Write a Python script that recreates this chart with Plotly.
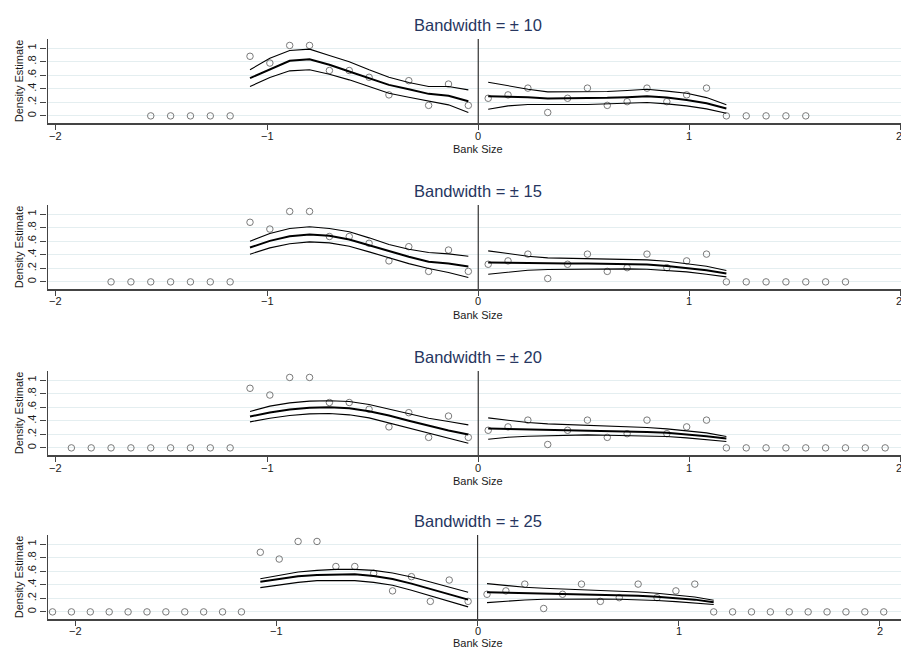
import plotly.graph_objects as go

# Bin midpoints (Bank Size) and histogram density of the observed bins
left_x = [-1.081, -0.987, -0.893, -0.799, -0.705, -0.611, -0.517, -0.423, -0.329, -0.235, -0.141, -0.047]
right_x = [0.047, 0.141, 0.235, 0.329, 0.423, 0.517, 0.611, 0.705, 0.799, 0.893, 0.987, 1.081, 1.175]
left_density = [0.88, 0.78, 1.04, 1.04, 0.67, 0.67, 0.57, 0.31, 0.52, 0.155, 0.47, 0.155]
right_density = [0.26, 0.31, 0.41, 0.05, 0.26, 0.41, 0.155, 0.21, 0.41, 0.21, 0.31, 0.41, 0.0]

# Empty bins added on each side as the bandwidth widens
left_empty_x = [-1.175, -1.269, -1.363, -1.457, -1.551, -1.645, -1.739, -1.833, -1.927, -2.021, -2.115]
right_empty_x = [1.269, 1.363, 1.457, 1.551, 1.645, 1.739, 1.833, 1.927, 2.021, 2.115]
empty_left_count = [5, 7, 9, 11]
empty_right_count = [4, 6, 8, 10]

bandwidths = [10, 15, 20, 25]

# Local polynomial fits: (estimate, upper CI, lower CI) for each side, per bandwidth
fit_left = [
    ([0.557, 0.69, 0.813, 0.837, 0.754, 0.655, 0.557, 0.458, 0.394, 0.325, 0.296, 0.217],
     [0.68, 0.852, 0.966, 0.985, 0.89, 0.80, 0.68, 0.571, 0.493, 0.433, 0.433, 0.384],
     [0.433, 0.567, 0.665, 0.68, 0.616, 0.532, 0.433, 0.335, 0.276, 0.222, 0.163, 0.049]),
    ([0.507, 0.606, 0.675, 0.70, 0.68, 0.626, 0.542, 0.453, 0.37, 0.296, 0.27, 0.227],
     [0.60, 0.714, 0.788, 0.813, 0.788, 0.739, 0.65, 0.552, 0.483, 0.433, 0.414, 0.379],
     [0.409, 0.502, 0.562, 0.591, 0.576, 0.527, 0.443, 0.355, 0.27, 0.197, 0.138, 0.064]),
    ([0.463, 0.522, 0.567, 0.591, 0.601, 0.586, 0.542, 0.478, 0.40, 0.325, 0.256, 0.197],
     [0.537, 0.616, 0.665, 0.69, 0.695, 0.685, 0.64, 0.576, 0.502, 0.438, 0.389, 0.34],
     [0.384, 0.438, 0.478, 0.502, 0.507, 0.488, 0.443, 0.369, 0.296, 0.217, 0.143, 0.069]),
    ([0.446, 0.485, 0.525, 0.544, 0.554, 0.554, 0.529, 0.485, 0.417, 0.338, 0.26, 0.181],
     [0.49, 0.544, 0.588, 0.613, 0.627, 0.627, 0.613, 0.574, 0.515, 0.441, 0.368, 0.289],
     [0.358, 0.402, 0.436, 0.461, 0.466, 0.461, 0.436, 0.392, 0.319, 0.24, 0.157, 0.074]),
]
fit_right = [
    ([0.29, 0.286, 0.276, 0.256, 0.256, 0.266, 0.266, 0.276, 0.29, 0.27, 0.236, 0.187, 0.108],
     [0.497, 0.443, 0.394, 0.355, 0.355, 0.36, 0.36, 0.374, 0.394, 0.365, 0.335, 0.27, 0.163],
     [0.099, 0.148, 0.167, 0.163, 0.167, 0.167, 0.177, 0.187, 0.197, 0.177, 0.148, 0.103, 0.039]),
    ([0.286, 0.281, 0.276, 0.266, 0.271, 0.271, 0.266, 0.261, 0.256, 0.236, 0.207, 0.172, 0.123],
     [0.458, 0.419, 0.379, 0.355, 0.35, 0.345, 0.34, 0.335, 0.325, 0.305, 0.271, 0.232, 0.167],
     [0.113, 0.148, 0.172, 0.182, 0.187, 0.192, 0.192, 0.192, 0.187, 0.172, 0.148, 0.113, 0.074]),
    ([0.286, 0.281, 0.276, 0.271, 0.266, 0.261, 0.256, 0.246, 0.236, 0.222, 0.202, 0.172, 0.138],
     [0.443, 0.404, 0.374, 0.355, 0.345, 0.335, 0.325, 0.315, 0.30, 0.281, 0.256, 0.222, 0.167],
     [0.128, 0.158, 0.172, 0.182, 0.187, 0.192, 0.187, 0.182, 0.177, 0.167, 0.148, 0.123, 0.094]),
    ([0.289, 0.284, 0.279, 0.274, 0.27, 0.265, 0.26, 0.25, 0.24, 0.225, 0.206, 0.181, 0.142],
     [0.417, 0.387, 0.363, 0.348, 0.338, 0.328, 0.319, 0.309, 0.294, 0.275, 0.25, 0.22, 0.172],
     [0.137, 0.162, 0.176, 0.186, 0.191, 0.191, 0.191, 0.186, 0.181, 0.167, 0.152, 0.132, 0.108]),
]

x_ranges = [[-2.04, 2.002], [-2.04, 2.002], [-2.04, 2.002], [-2.14, 2.107]]
y_ticks = [0, 0.2, 0.4, 0.6, 0.8, 1]
y_ticktext = ["0", ".2", ".4", ".6", ".8", "1"]
x_ticks = [-2, -1, 0, 1, 2]
x_ticktext = ["\u22122", "\u22121", "0", "1", "2"]

W, H = 901, 651
plot_left = 47.5
panel_tops = [39, 205, 371, 535]
panel_h = 84
ticklabel_gap = [12.5, 12.5, 12.5, 11.5]

FONT = "Liberation Sans, Arial, Helvetica, sans-serif"
TXT = "#1a1a1a"
AX = "#444444"
marker_style = dict(symbol="circle-open", size=6.5, color="#7a7a7a", line=dict(width=1, color="#7a7a7a"))
tickfont = dict(size=11, color=TXT, family=FONT)
titlefont = dict(size=11, color=TXT, family=FONT)

fig = go.Figure()
annotations = []
shapes = []

for i, bw in enumerate(bandwidths):
    xa = "x" if i == 0 else f"x{i + 1}"
    ya = "y" if i == 0 else f"y{i + 1}"
    pts_x = (left_empty_x[:empty_left_count[i]][::-1] + left_x + right_x
             + right_empty_x[:empty_right_count[i]])
    pts_y = ([0.0] * empty_left_count[i] + left_density + right_density
             + [0.0] * empty_right_count[i])
    fig.add_trace(go.Scatter(x=pts_x, y=pts_y, mode="markers", marker=marker_style,
                             xaxis=xa, yaxis=ya, showlegend=False, cliponaxis=False))
    for xs, (est, hi, lo) in ((left_x, fit_left[i]), (right_x, fit_right[i])):
        for ys, w in ((hi, 1.1), (lo, 1.1), (est, 2.0)):
            fig.add_trace(go.Scatter(x=xs, y=ys, mode="lines",
                                     line=dict(color="black", width=w),
                                     xaxis=xa, yaxis=ya, showlegend=False))

    top = panel_tops[i]
    bottom = top + panel_h
    dom_y = [1 - bottom / H, 1 - top / H]
    fig.layout[f"xaxis{'' if i == 0 else i + 1}"] = dict(
        domain=[plot_left / W, 1], range=x_ranges[i], anchor=ya,
        tickvals=x_ticks, showticklabels=False, showgrid=False, zeroline=False,
        showline=True, linecolor=AX, linewidth=1.6, ticks="outside", tickcolor=AX,
        ticklen=5)
    fig.layout[f"yaxis{'' if i == 0 else i + 1}"] = dict(
        domain=dom_y, range=[-0.105, 1.135], anchor=xa,
        tickvals=y_ticks, ticktext=y_ticktext, tickangle=-90,
        showgrid=True, gridcolor="#e4eef0", gridwidth=1, zeroline=False,
        showline=True, linecolor=AX, linewidth=1.2, ticks="outside", tickcolor=AX,
        ticklen=6, tickfont=tickfont,
        title=dict(text="Density Estimate", font=titlefont, standoff=0))

    # x tick labels placed on the axis scale just under the tick marks;
    # a label sitting on the right edge is right-aligned so it stays on the page
    for tv, tt in zip(x_ticks, x_ticktext):
        at_edge = tv >= x_ranges[i][1] - 0.01
        annotations.append(dict(text=tt, xref=xa, yref="paper", x=tv,
                                y=1 - (bottom + ticklabel_gap[i]) / H,
                                xanchor="right" if at_edge else "center",
                                xshift=3 if at_edge else 0,
                                yanchor="middle", showarrow=False, font=tickfont))
    # threshold at zero
    shapes.append(dict(type="line", xref=xa, yref=f"{ya} domain", x0=0, x1=0, y0=0, y1=1,
                       line=dict(color="#333333", width=1.2)))
    if i < len(bandwidths) - 1:
        annotations.append(dict(text="Bank Size", xref="paper", yref="paper",
                                x=478 / W, y=1 - (bottom + 26) / H, xanchor="center",
                                yanchor="middle", showarrow=False, font=titlefont))
    else:
        annotations.append(dict(text="Bank Size", xref="paper", yref="paper",
                                x=478 / W, y=0, xanchor="center",
                                yanchor="bottom", showarrow=False, font=titlefont))
    annotations.append(dict(text=f"Bandwidth = \u00b1 {bw}", xref="paper", yref="paper",
                            x=478 / W, y=1 - (top - 14) / H, xanchor="center",
                            yanchor="middle", showarrow=False,
                            font=dict(size=16.5, color="#27365f", family=FONT)))

fig.update_layout(width=W, height=H, margin=dict(l=0, r=0, t=0, b=0),
                  paper_bgcolor="white", plot_bgcolor="white",
                  font=dict(family=FONT), annotations=annotations, shapes=shapes)

fig.write_html("out.html")
